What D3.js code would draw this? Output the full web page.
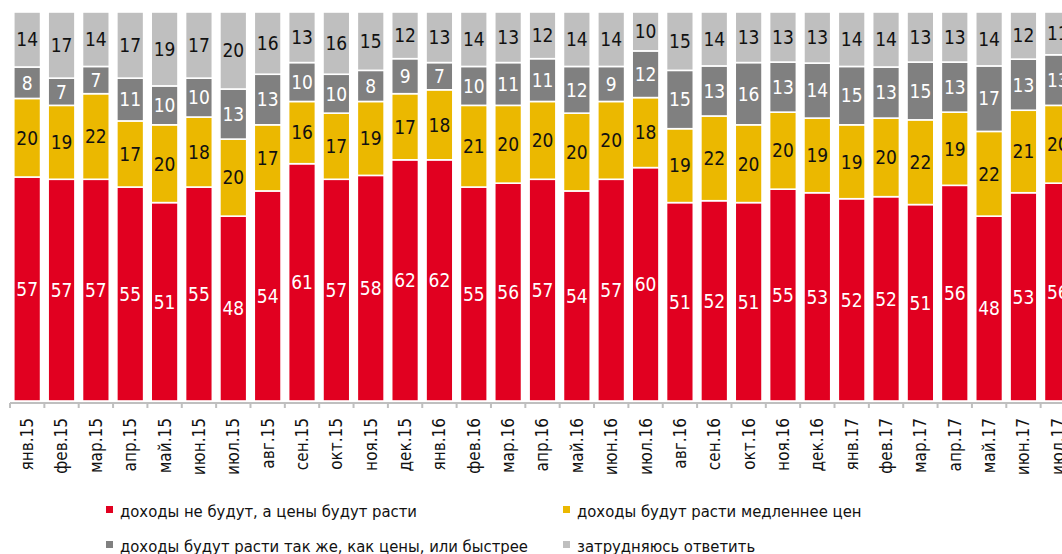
<!DOCTYPE html>
<html>
<head>
<meta charset="utf-8">
<script src="https://cdn.jsdelivr.net/npm/d3@7"></script>
<style>
  body { margin: 0; background: #fff; }
  svg { display: block; }
  .lbl { font-family: "Liberation Sans Narrow", "DejaVu Sans Condensed", sans-serif; }
</style>
</head>
<body>
<svg id="chart" width="1062" height="554"></svg>
<script>
// months along the bottom
var months = ["янв.15","фев.15","мар.15","апр.15","май.15","июн.15","июл.15","авг.15","сен.15","окт.15","ноя.15","дек.15",
  "янв.16","фев.16","мар.16","апр.16","май.16","июн.16","июл.16","авг.16","сен.16","окт.16","ноя.16","дек.16",
  "янв.17","фев.17","мар.17","апр.17","май.17","июн.17","июл.17"];

var seriesNames = ["доходы не будут, а цены будут расти", "доходы будут расти медленнее цен",
  "доходы будут расти так же, как цены, или быстрее", "затрудняюсь ответить"];

var noIncome = [57,57,57,55,51,55,48,54,61,57,58,62,62,55,56,57,54,57,60,51,52,51,55,53,52,52,51,56,48,53,56];
var slower   = [20,19,22,17,20,18,20,17,16,17,19,17,18,21,20,20,20,20,18,19,22,20,20,19,19,20,22,19,22,21,20];
var sameOrFaster = [8,7,7,11,10,10,13,13,10,10,8,9,7,10,11,11,12,9,12,15,13,16,13,14,15,13,15,13,17,13,13];
var hardToSay = [14,17,14,17,19,17,20,16,13,16,15,12,13,14,13,12,14,14,10,15,14,13,13,13,14,14,13,13,14,12,11];

var colors = ["#e10020", "#ebb800", "#808080", "#bfbfbf"];
var textColors = ["#fff", "#111", "#fff", "#111"];

var keys = ["a", "b", "c", "d"];
var rows = months.map(function(m, i) {
  return { m: m, a: noIncome[i], b: slower[i], c: sameOrFaster[i], d: hardToSay[i] };
});

var svg = d3.select("#chart");

var x = d3.scaleBand().domain(months).range([10, 1075]).paddingInner(0.22).paddingOuter(0.11);
var y = d3.scaleLinear().domain([0, 1]).range([401, 12]);

var stack = d3.stack().keys(keys).offset(d3.stackOffsetExpand);
var layers = stack(rows);

var g = svg.selectAll("g.layer").data(layers).enter().append("g").attr("class", "layer");

g.selectAll("rect").data(function(d) { return d; }).enter().append("rect")
  .attr("x", function(d) { return x(d.data.m); })
  .attr("width", x.bandwidth())
  .attr("y", function(d) { return y(d[1]); })
  .attr("height", function(d) { return y(d[0]) - y(d[1]); })
  .attr("fill", function(d, i, n) { return colors[keys.indexOf(d3.select(n[i].parentNode).datum().key)]; })
  .attr("stroke", "#fff")
  .attr("stroke-width", 1.6);

layers.forEach(function(layer, li) {
  svg.append("g").selectAll("text").data(layer).enter().append("text")
    .attr("class", "lbl")
    .attr("x", function(d) { return x(d.data.m) + x.bandwidth() / 2; })
    .attr("y", function(d) { return (y(d[0]) + y(d[1])) / 2; })
    .attr("dy", "0.36em")
    .attr("text-anchor", "middle")
    .attr("font-size", 19)
    .attr("fill", textColors[li])
    .text(function(d) { return d.data[keys[li]]; });
});

// x axis
var axisY = 403;
var step = x.step();
svg.append("line").attr("x1", 10).attr("x2", 1062).attr("y1", axisY).attr("y2", axisY)
  .attr("stroke", "#bfbfbf").attr("stroke-width", 2);
svg.append("g").selectAll("line").data(d3.range(months.length + 1)).enter().append("line")
  .attr("x1", function(i) { return x(months[0]) - step * x.paddingInner() / 2 + i * step; })
  .attr("x2", function(i) { return x(months[0]) - step * x.paddingInner() / 2 + i * step; })
  .attr("y1", axisY).attr("y2", axisY + 5)
  .attr("stroke", "#bfbfbf").attr("stroke-width", 2);

svg.append("g").selectAll("text").data(months).enter().append("text")
  .attr("class", "lbl")
  .attr("transform", function(m) { return "translate(" + (x(m) + x.bandwidth() / 2) + "," + 418 + ") rotate(-90)"; })
  .attr("text-anchor", "end")
  .attr("dy", "0.35em")
  .attr("font-size", 17)
  .attr("fill", "#111")
  .text(function(m) { return m; });

// legend
var legendPos = [[106, 511], [563, 511], [106, 546], [563, 546]];
seriesNames.forEach(function(name, i) {
  var p = legendPos[i];
  svg.append("rect").attr("x", p[0]).attr("y", p[1] - 5).attr("width", 7).attr("height", 7).attr("fill", colors[i]);
  svg.append("text").attr("class", "lbl")
    .attr("x", p[0] + 14).attr("y", p[1]).attr("dy", "0.35em")
    .attr("font-size", 16.5).attr("fill", "#111")
    .text(name);
});
</script>
</body>
</html>
